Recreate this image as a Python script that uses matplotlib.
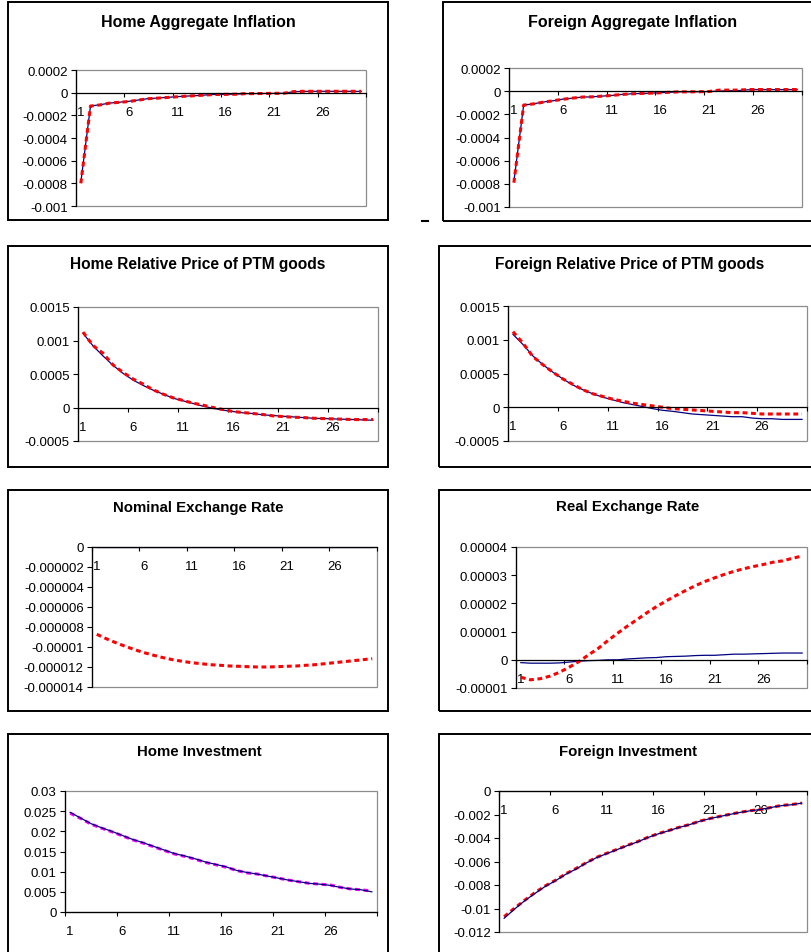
import matplotlib.pyplot as plt
from matplotlib.patches import Rectangle
from matplotlib.lines import Line2D
from matplotlib.ticker import FixedLocator

plt.rcParams['font.family'] = ['Liberation Sans', 'DejaVu Sans']
plt.rcParams['lines.scale_dashes'] = False
plt.rcParams['axes.unicode_minus'] = False

W, H = 812, 953

periods = list(range(1, 31))
xtick_labels = ['1', '6', '11', '16', '21', '26']

# --- data (solid blue = model A, dashed = model B) ---
home_infl_a = [-0.00079, -0.000118, -0.000106, -0.000092, -0.000084, -0.000076, -0.000064, -0.000052,
               -0.000047, -0.000041, -0.000035, -0.00003, -0.000026, -0.00002, -0.000015, -0.000014,
               -0.000013, -0.000009, -0.000008, -0.000007, -0.000006, -0.000005, 0.000008, 0.000011,
               0.000012, 0.000012, 0.000012, 0.000012, 0.000012, 0.000011]
home_infl_b = [-0.0008, -0.000118, -0.000108, -0.000092, -0.000085, -0.000078, -0.000065, -0.000053,
               -0.000048, -0.000042, -0.000036, -0.00003, -0.000026, -0.00002, -0.000016, -0.000015,
               -0.000014, -0.000009, -0.000008, -0.000007, -0.000006, -0.000005, 0.000009, 0.000012,
               0.000012, 0.000012, 0.000012, 0.000012, 0.000012, 0.000012]

for_infl_a = [-0.00078, -0.00012, -0.000109, -0.000094, -0.000083, -0.000069, -0.00006, -0.000051,
              -0.000049, -0.000043, -0.000037, -0.000029, -0.000023, -0.00002, -0.000017, -0.000014,
              -0.000009, -0.000006, -0.000006, -0.000005, -0.000003, 0.000001, 0.000003, 0.000005,
              0.000012, 0.000013, 0.000013, 0.000013, 0.000013, 0.000013]
for_infl_b = [-0.00079, -0.00012, -0.00011, -0.000095, -0.000083, -0.00007, -0.00006, -0.000051,
              -0.000049, -0.000043, -0.000037, -0.000029, -0.000023, -0.00002, -0.000017, -0.000014,
              -0.000009, -0.000006, -0.000006, -0.000005, -0.000003, 0.000009, 0.000009, 0.000009,
              0.000014, 0.000014, 0.000014, 0.000014, 0.000014, 0.000014]

home_ptm_a = [0.00111, 0.00092, 0.00077, 0.00063, 0.00051, 0.00041, 0.00033, 0.00026, 0.0002, 0.00014,
              0.0001, 0.00006, 0.00002, -0.00001, -0.00004, -0.00006, -0.00008, -0.00009, -0.00011, -0.00012,
              -0.00013, -0.00014, -0.00015, -0.00016, -0.000165, -0.00017, -0.000175, -0.00018, -0.000185, -0.00019]
home_ptm_b = [0.001125, 0.000925, 0.00081, 0.000635, 0.000525, 0.000425, 0.00035, 0.000265, 0.0002, 0.000145,
              0.000105, 0.000065, 0.000035, 0.0, -0.00003, -0.00006, -0.000075, -0.00009, -0.000105, -0.000125,
              -0.000135, -0.000145, -0.00015, -0.00016, -0.000165, -0.00017, -0.000175, -0.00018, -0.00018, -0.00018]

for_ptm_a = [0.00108, 0.00093, 0.00076, 0.00063, 0.00052, 0.00042, 0.00033, 0.00026, 0.0002, 0.00015,
             0.00011, 0.00007, 0.00004, 0.00001, -0.00002, -0.000045, -0.00006, -0.00008, -0.0001, -0.00011,
             -0.00012, -0.00013, -0.00014, -0.00014, -0.00016, -0.00017, -0.00017, -0.00018, -0.00018, -0.00018]
for_ptm_b = [0.00112, 0.00095, 0.00075, 0.00063, 0.00052, 0.00042, 0.00034, 0.00026, 0.0002, 0.00016,
             0.00012, 0.00009, 0.00006, 0.00004, 0.00002, 0.0, -0.00002, -0.00003, -0.00004, -0.00005,
             -0.00006, -0.00007, -0.00008, -0.00008, -0.00009, -0.0001, -0.0001, -0.0001, -0.0001, -0.0001]

nom_er_a = [0.0] * 30
nom_er_b = [-8.73e-6, -9.17e-6, -9.57e-6, -9.93e-6, -1.027e-5, -1.057e-5, -1.083e-5, -1.107e-5, -1.127e-5,
            -1.143e-5, -1.157e-5, -1.167e-5, -1.177e-5, -1.183e-5, -1.19e-5, -1.193e-5, -1.197e-5, -1.2e-5,
            -1.2e-5, -1.197e-5, -1.193e-5, -1.19e-5, -1.183e-5, -1.177e-5, -1.167e-5, -1.157e-5, -1.147e-5,
            -1.137e-5, -1.127e-5, -1.117e-5]

real_er_a = [-1.0e-6, -1.2e-6, -1.2e-6, -1.2e-6, -1.1e-6, -0.8e-6, -0.5e-6, -0.3e-6, -0.2e-6, 0.0,
             0.0, 0.3e-6, 0.5e-6, 0.7e-6, 0.8e-6, 1.1e-6, 1.2e-6, 1.3e-6, 1.5e-6, 1.6e-6,
             1.6e-6, 1.8e-6, 2.0e-6, 2.0e-6, 2.1e-6, 2.2e-6, 2.3e-6, 2.4e-6, 2.4e-6, 2.4e-6]
real_er_b = [-6.2e-6, -7.1e-6, -6.7e-6, -5.8e-6, -4.4e-6, -2.6e-6, -0.6e-6, 1.8e-6, 4.1e-6, 6.9e-6,
             9.5e-6, 1.2e-5, 1.43e-5, 1.67e-5, 1.89e-5, 2.09e-5, 2.28e-5, 2.46e-5, 2.63e-5, 2.78e-5,
             2.91e-5, 3.03e-5, 3.14e-5, 3.23e-5, 3.31e-5, 3.38e-5, 3.46e-5, 3.51e-5, 3.6e-5, 3.68e-5]

home_inv_a = [0.0247, 0.0233, 0.0219, 0.0209, 0.02, 0.019, 0.018, 0.0172, 0.0163, 0.0154,
              0.0145, 0.0139, 0.0132, 0.0124, 0.0118, 0.0112, 0.0103, 0.0098, 0.0094, 0.0089,
              0.0084, 0.0079, 0.0075, 0.0071, 0.0069, 0.0066, 0.0061, 0.0057, 0.0055, 0.005]
home_inv_b = [0.0245, 0.0232, 0.0218, 0.0208, 0.0199, 0.0189, 0.0179, 0.0171, 0.0162, 0.0153,
              0.0144, 0.0138, 0.0131, 0.0123, 0.0117, 0.0111, 0.0103, 0.0097, 0.0094, 0.0089,
              0.0084, 0.0079, 0.0075, 0.0071, 0.0069, 0.0067, 0.0061, 0.0057, 0.0055, 0.0052]

for_inv_a = [-0.01083, -0.01006, -0.00934, -0.00872, -0.00812, -0.00764, -0.00709, -0.00664, -0.00613, -0.00567,
             -0.00533, -0.00499, -0.00464, -0.00433, -0.00396, -0.00365, -0.00339, -0.00311, -0.00288, -0.00259,
             -0.00236, -0.00217, -0.00199, -0.00182, -0.00168, -0.00157, -0.0014, -0.00125, -0.00117, -0.00103]
for_inv_b = [-0.0107, -0.00998, -0.0093, -0.00865, -0.00808, -0.0076, -0.00705, -0.0066, -0.0061, -0.00565,
             -0.0053, -0.00497, -0.00462, -0.00431, -0.00394, -0.00363, -0.00337, -0.0031, -0.00287, -0.00258,
             -0.00235, -0.00216, -0.00198, -0.00181, -0.00167, -0.00157, -0.0014, -0.00123, -0.00115, -0.00103]

titles = ['Home Aggregate Inflation', 'Foreign Aggregate Inflation',
          'Home Relative Price of PTM goods', 'Foreign Relative Price of PTM goods',
          'Nominal Exchange Rate', 'Real Exchange Rate',
          'Home Investment', 'Foreign Investment']

ytick_vals = {
    'infl': [0.0002, 0, -0.0002, -0.0004, -0.0006, -0.0008, -0.001],
    'ptm': [0.0015, 0.001, 0.0005, 0, -0.0005],
    'nom': [0, -0.000002, -0.000004, -0.000006, -0.000008, -0.00001, -0.000012, -0.000014],
    'real': [0.00004, 0.00003, 0.00002, 0.00001, 0, -0.00001],
    'hinv': [0.03, 0.025, 0.02, 0.015, 0.01, 0.005, 0],
    'finv': [0, -0.002, -0.004, -0.006, -0.008, -0.01, -0.012],
}
ytick_text = {
    'infl': ['0.0002', '0', '-0.0002', '-0.0004', '-0.0006', '-0.0008', '-0.001'],
    'ptm': ['0.0015', '0.001', '0.0005', '0', '-0.0005'],
    'nom': ['0', '-0.000002', '-0.000004', '-0.000006', '-0.000008', '-0.00001', '-0.000012', '-0.000014'],
    'real': ['0.00004', '0.00003', '0.00002', '0.00001', '0', '-0.00001'],
    'hinv': ['0.03', '0.025', '0.02', '0.015', '0.01', '0.005', '0'],
    'finv': ['0', '-0.002', '-0.004', '-0.006', '-0.008', '-0.01', '-0.012'],
}

# layout in pixels: plot area (l, r, t, b), outer box (l, t, r, b), title centre (x, y)
panels = [
    (home_infl_a, home_infl_b, 'infl', (76, 366, 71, 207), (8, 3, 388, 221), (198, 22), 11.5, 'red', False),
    (for_infl_a, for_infl_b, 'infl', (509, 802, 69, 208), (443, 3, 830, 222), (633, 22), 11.5, 'red', False),
    (home_ptm_a, home_ptm_b, 'ptm', (78, 378, 308, 442), (8, 247, 388, 468), (198, 265), 11.2, 'red', False),
    (for_ptm_a, for_ptm_b, 'ptm', (508, 807, 307, 442), (439, 247, 830, 468), (630, 265), 11.2, 'red', False),
    (nom_er_a, nom_er_b, 'nom', (92, 377, 548, 688), (8, 491, 388, 712), (198, 508), 10.8, 'red', False),
    (real_er_a, real_er_b, 'real', (516, 807, 548, 689), (439, 491, 830, 712), (628, 507), 10.8, 'red', False),
    (home_inv_a, home_inv_b, 'hinv', (65, 377, 792, 913), (8, 735, 388, 980), (199, 752), 10.8, '#FF00FF', True),
    (for_inv_a, for_inv_b, 'finv', (499, 807, 792, 933), (439, 735, 830, 980), (628, 752), 10.8, 'red', True),
]

fig = plt.figure(figsize=(W / 100, H / 100), dpi=100)


def fx(x):
    return x / W


def fy(y):
    return 1 - y / H


for i, (sa, sb, key, pa, box, tpos, tsize, dcol, blue_top) in enumerate(panels):
    # outer chart box
    fig.add_artist(Rectangle((fx(box[0]), fy(box[3])), fx(box[2] - box[0]), (box[3] - box[1]) / H,
                             transform=fig.transFigure, fill=False, edgecolor='black', lw=1.4))
    fig.text(fx(tpos[0]), fy(tpos[1]), titles[i], ha='center', va='center',
             fontsize=tsize, fontweight='bold')

    l, r, t, b = pa
    ax = fig.add_axes([fx(l), fy(b), fx(r - l), (b - t) / H])
    zb = 3 if blue_top else 2
    ax.plot(periods, sa, color='#000080', lw=0.9, zorder=zb)
    ax.plot(periods, sb, color=dcol, lw=2.2, dashes=(3.5, 2.6), zorder=2.5)

    yv = ytick_vals[key]
    ax.set_ylim(min(yv), max(yv))
    ax.set_xlim(0.5, 30.5)
    ax.yaxis.set_major_locator(FixedLocator(yv))
    ax.set_yticklabels(ytick_text[key])

    ax.xaxis.set_major_locator(FixedLocator([0.5, 5.5, 10.5, 15.5, 20.5, 25.5, 30.5]))
    ax.xaxis.set_minor_locator(FixedLocator([1, 6, 11, 16, 21, 26]))
    ax.set_xticklabels([''] * 7)
    ax.set_xticklabels(xtick_labels, minor=True)
    ax.tick_params(axis='x', which='major', direction='out', length=3, width=0.8)
    ax.tick_params(axis='x', which='minor', length=0, pad=9.5, labelsize=9.5)
    ax.tick_params(axis='y', direction='out', length=3.5, width=0.8, pad=2.5, labelsize=9.5)

    ax.spines['bottom'].set_position(('data', 0))
    ax.spines['bottom'].set_linewidth(0.9)
    ax.spines['left'].set_linewidth(0.9)
    ax.spines['top'].set_visible(False)
    ax.spines['right'].set_visible(False)
    ax.add_patch(Rectangle((0, 0), 1, 1, transform=ax.transAxes, fill=False,
                           edgecolor='#8c8c8c', lw=0.9, zorder=1, clip_on=False))
    ax.patch.set_facecolor('white')

# small stray mark between the top panels
fig.add_artist(Line2D([fx(422), fx(428)], [fy(222), fy(222)], color='black', lw=1.5))

fig.savefig('out.png', dpi=100)
